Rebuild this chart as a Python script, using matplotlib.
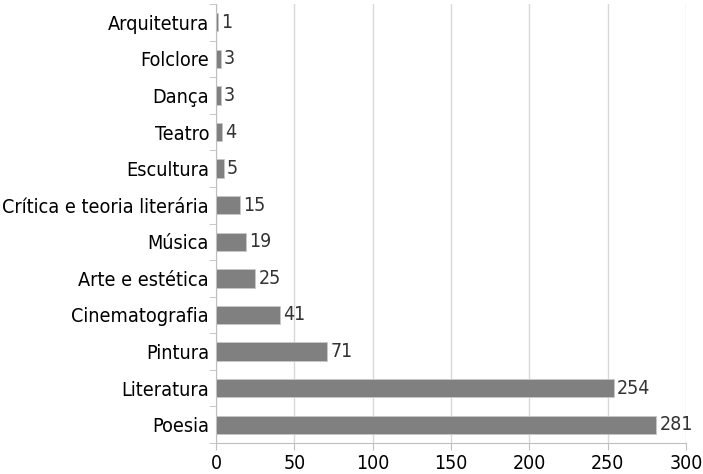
import matplotlib.pyplot as plt
import numpy as np

categories = ["Poesia", "Literatura", "Pintura", "Cinematografia", "Arte e estética",
              "Música", "Crítica e teoria literária", "Escultura", "Teatro", "Dança",
              "Folclore", "Arquitetura"]
values = [281, 254, 71, 41, 25, 19, 15, 5, 4, 3, 3, 1]
xticks = [0, 50, 100, 150, 200, 250, 300]

plt.rcParams['font.family'] = ['DejaVu Sans']
plt.rcParams['font.stretch'] = 'condensed'

fig = plt.figure(figsize=(7.03, 4.74), dpi=100)
ax = fig.add_axes([216 / 703, 31 / 474, 470 / 703, 439 / 474])

y = np.arange(len(categories))
ax.barh(y, values, height=0.5, color="#808080", edgecolor="#c8c8c8", linewidth=0.6, zorder=3)
for yi, v in zip(y, values):
    ax.text(v + 2, yi, str(v), va="center", ha="left", fontsize=14, color="#333333")

ax.set_xlim(0, 300)
ax.set_ylim(-0.5, len(categories) - 0.5)
ax.set_xticks(xticks)
ax.set_xticklabels([str(t) for t in xticks], fontsize=14)
ax.set_yticks(y)
ax.set_yticklabels(categories, fontsize=14.2)
ax.set_yticks(np.arange(-0.5, len(categories), 1), minor=True)
ax.tick_params(axis="y", which="major", length=0, pad=5)
ax.tick_params(axis="y", which="minor", length=5, color="#bfbfbf")
ax.tick_params(axis="x", length=5, color="#bfbfbf", pad=3)
ax.grid(axis="x", color="#d9d9d9", linewidth=1, zorder=0)

for s in ["top", "right"]:
    ax.spines[s].set_visible(False)
for s in ["left", "bottom"]:
    ax.spines[s].set_color("#bfbfbf")

fig.savefig("out.png", dpi=100)
